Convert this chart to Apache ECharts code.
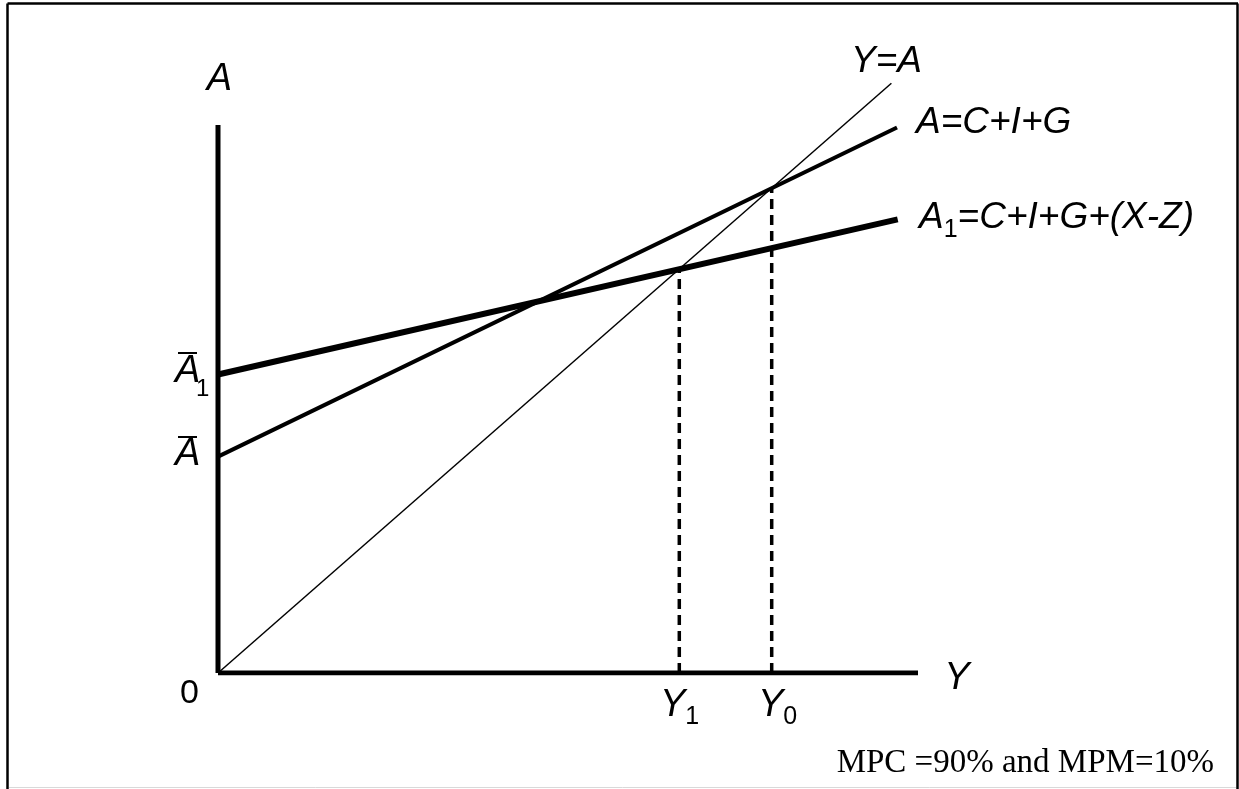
<!DOCTYPE html>
<html>
<head>
<meta charset="utf-8">
<script src="https://cdn.jsdelivr.net/npm/echarts@6/dist/echarts.min.js"></script>
<style>
html,body{margin:0;padding:0;background:#fff;}
#chart{width:1239px;height:789px;}
</style>
</head>
<body>
<div id="chart"></div>
<script>
// ---- data (abstract units: income Y on x-axis, aggregate demand A on y-axis) ----
const xAxisRange = [0, 100];
const yAxisRange = [0, 100];
const xAxisLine = [[0, 0], [100, 0]];
const yAxisLine = [[0, 0], [0, 89.4]];
const lineYeqA = [[0, 0], [96.2, 96.2]];          // Y = A (45° line)
const lineA = [[0, 35.3], [97, 89.0]];              // A = C + I + G
const lineA1 = [[0, 48.7], [97.1, 74.0]];           // A1 = C + I + G + (X - Z)
const eqY1 = 65.9;                                  // equilibrium with trade
const eqY0 = 79.1;                                  // equilibrium without trade
const dashY1 = [[eqY1, 0], [eqY1, eqY1]];
const dashY0 = [[eqY0, 0], [eqY0, eqY0]];

const F = '"Liberation Sans", Arial, sans-serif';
const chart = echarts.init(document.getElementById('chart'), null, {renderer: 'canvas'});

function lineSeries(data, width, type, z) {
  return {
    type: 'line', data: data, showSymbol: false, symbol: 'none', silent: true,
    animation: false, z: z,
    lineStyle: {color: '#000', width: width, type: type || 'solid', cap: 'butt'}
  };
}

function richLabel(text, left, cy, mainSize, subSize) {
  return {
    type: 'text', x: left, y: cy, z: 100,
    style: {
      text: text,
      textAlign: 'left', textVerticalAlign: 'middle',
      rich: {
        m: {font: 'italic ' + mainSize + 'px ' + F, fill: '#000', color: '#000', lineHeight: 50, verticalAlign: 'middle'},
        s: {font: subSize + 'px ' + F, fill: '#000', color: '#000', lineHeight: 24, verticalAlign: 'bottom'}
      }
    }
  };
}

function txt(t, x, y, font, align) {
  return {type: 'text', x: x, y: y, z: 100, style: {text: t, font: font, fill: '#000', textAlign: align || 'left', textVerticalAlign: 'middle'}};
}

const option = {
  backgroundColor: '#fff',
  animation: false,
  grid: {left: 218, right: 321, top: 60, bottom: 116, containLabel: false},
  xAxis: {type: 'value', min: xAxisRange[0], max: xAxisRange[1], show: false},
  yAxis: {type: 'value', min: yAxisRange[0], max: yAxisRange[1], show: false},
  series: [
    lineSeries(dashY1, 3.5, [10, 6], 2),
    lineSeries(dashY0, 3.5, [10, 6], 2),
    lineSeries(xAxisLine, 5, 'solid', 3),
    lineSeries(yAxisLine, 5, 'solid', 3),
    lineSeries(lineYeqA, 1.5, 'solid', 4),
    lineSeries(lineA, 4, 'solid', 4),
    lineSeries(lineA1, 6, 'solid', 4)
  ],
  graphic: [
    // frame
    {type: 'line', shape: {x1: 7.5, y1: 3.5, x2: 1238, y2: 3.5}, style: {stroke: '#000', lineWidth: 2.5}},
    {type: 'line', shape: {x1: 7.5, y1: 3.5, x2: 7.5, y2: 789}, style: {stroke: '#000', lineWidth: 2.5}},
    {type: 'line', shape: {x1: 1237.5, y1: 3.5, x2: 1237.5, y2: 789}, style: {stroke: '#000', lineWidth: 2.5}},
    {type: 'line', shape: {x1: 9, y1: 787.5, x2: 1236, y2: 787.5}, style: {stroke: '#d9d9d9', lineWidth: 1}},
    // axis names
    txt('A', 219.5, 79, 'italic 38px ' + F, 'center'),
    txt('Y', 957, 678, 'italic 38px ' + F, 'center'),
    txt('0', 189.5, 694, '34px ' + F, 'center'),
    richLabel('{m|Y}{s|1}', 660, 705, 38, 25),
    richLabel('{m|Y}{s|0}', 758, 705, 38, 25),
    // intercept labels
    txt('A', 175, 371, 'italic 38px ' + F, 'left'),
    txt('1', 196, 389, '24px ' + F, 'left'),
    {type: 'line', shape: {x1: 178, y1: 353, x2: 197, y2: 353}, style: {stroke: '#000', lineWidth: 2}},
    txt('A', 175, 454, 'italic 38px ' + F, 'left'),
    {type: 'line', shape: {x1: 178, y1: 437, x2: 197, y2: 437}, style: {stroke: '#000', lineWidth: 2}},
    // curve labels
    txt('Y=A', 851, 62, 'italic 37px ' + F, 'left'),
    txt('A=C+I+G', 916, 122.5, 'italic 37px ' + F, 'left'),
    richLabel('{m|A}{s|1}{m|=C+I+G+(X-Z)}', 919, 218, 37, 25),
    // note
    txt('MPC =90% and MPM=10%', 1214, 763, '33px "Liberation Serif", "DejaVu Serif", serif', 'right')
  ]
};
chart.setOption(option);
</script>
</body>
</html>
